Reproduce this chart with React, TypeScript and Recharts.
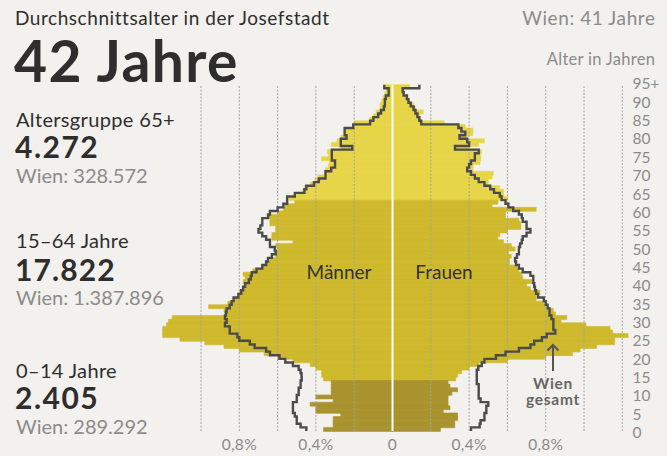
import React from 'react';
import { ComposedChart, Bar, Line, XAxis, YAxis, ReferenceLine, Cell } from 'recharts';

// Age categories (bottom to top)
const ageLabels: string[] = [
  '0','1','2','3','4','5','6','7','8','9',
  '10','11','12','13','14','15','16','17','18','19',
  '20','21','22','23','24','25','26','27','28','29',
  '30','31','32','33','34','35','36','37','38','39',
  '40','41','42','43','44','45','46','47','48','49',
  '50','51','52','53','54','55','56','57','58','59',
  '60','61','62','63','64','65','66','67','68','69',
  '70','71','72','73','74','75','76','77','78','79',
  '80','81','82','83','84','85','86','87','88','89',
  '90','91','92','93','94','95+',
];

// Josefstadt, share of population in % (Männer), per age 0..95+
const josefstadtMen: number[] = [
  0.36, 0.31, 0.31, 0.31, 0.27, 0.40, 0.40, 0.43, 0.31, 0.40,
  0.32, 0.32, 0.32, 0.32, 0.36, 0.37, 0.37, 0.40, 0.43, 0.52,
  0.60, 0.67, 0.80, 0.88, 0.98, 1.11, 1.20, 1.20, 1.20, 1.18,
  1.17, 1.15, 0.87, 0.88, 0.96, 0.86, 0.83, 0.80, 0.80, 0.78,
  0.77, 0.78, 0.77, 0.78, 0.73, 0.68, 0.66, 0.64, 0.61, 0.61,
  0.60, 0.61, 0.52, 0.63, 0.63, 0.61, 0.61, 0.64, 0.64, 0.65,
  0.60, 0.57, 0.56, 0.51, 0.54, 0.50, 0.47, 0.46, 0.43, 0.405,
  0.39, 0.35, 0.35, 0.335, 0.33, 0.37, 0.335, 0.34, 0.27, 0.32,
  0.29, 0.27, 0.25, 0.25, 0.20, 0.20, 0.12, 0.10, 0.085, 0.065,
  0.065, 0.056, 0.05, 0.04, 0.034, 0.04,
];

// Josefstadt, share of population in % (Frauen)
const josefstadtWomen: number[] = [
  0.25, 0.325, 0.325, 0.34, 0.34, 0.265, 0.30, 0.29, 0.29, 0.29,
  0.31, 0.34, 0.30, 0.29, 0.33, 0.34, 0.36, 0.40, 0.45, 0.60,
  0.80, 0.94, 0.98, 1.066, 1.16, 1.16, 1.23, 1.15, 1.136, 1.01,
  0.88, 0.91, 0.85, 0.84, 0.80, 0.79, 0.75, 0.75, 0.77, 0.72,
  0.70, 0.727, 0.68, 0.675, 0.66, 0.65, 0.61, 0.61, 0.62, 0.605,
  0.64, 0.62, 0.58, 0.55, 0.56, 0.60, 0.67, 0.67, 0.66, 0.59,
  0.59, 0.75, 0.52, 0.55, 0.60, 0.58, 0.58, 0.56, 0.50, 0.50,
  0.52, 0.526, 0.42, 0.42, 0.457, 0.46, 0.46, 0.465, 0.40, 0.45,
  0.48, 0.39, 0.42, 0.42, 0.38, 0.27, 0.145, 0.14, 0.16, 0.12,
  0.11, 0.09, 0.08, 0.065, 0.056, 0.09,
];

// Wien gesamt, share in % (Männer)
const wienMen: number[] = [
  0.45, 0.48, 0.50, 0.50, 0.51, 0.52, 0.52, 0.52, 0.50, 0.50,
  0.49, 0.49, 0.48, 0.48, 0.474, 0.475, 0.48, 0.49, 0.52, 0.56,
  0.59, 0.64, 0.66, 0.72, 0.745, 0.80, 0.81, 0.85, 0.85, 0.875,
  0.866, 0.875, 0.87, 0.866, 0.85, 0.84, 0.83, 0.805, 0.79, 0.78,
  0.77, 0.75, 0.74, 0.735, 0.71, 0.68, 0.66, 0.65, 0.63, 0.61,
  0.615, 0.64, 0.64, 0.66, 0.68, 0.70, 0.69, 0.68, 0.68, 0.65,
  0.64, 0.60, 0.57, 0.55, 0.55, 0.51, 0.46, 0.45, 0.41, 0.385,
  0.35, 0.35, 0.32, 0.30, 0.30, 0.317, 0.317, 0.317, 0.21, 0.27,
  0.27, 0.24, 0.25, 0.25, 0.205, 0.117, 0.10, 0.075, 0.06, 0.045,
  0.04, 0.04, 0.035, 0.02, 0.02, 0.043,
];

// Wien gesamt, share in % (Frauen)
const wienWomen: number[] = [
  0.41, 0.455, 0.46, 0.48, 0.48, 0.49, 0.49, 0.50, 0.46, 0.45,
  0.45, 0.45, 0.45, 0.44, 0.44, 0.44, 0.44, 0.448, 0.466, 0.48,
  0.54, 0.59, 0.66, 0.72, 0.74, 0.78, 0.805, 0.85, 0.84, 0.84,
  0.84, 0.83, 0.82, 0.82, 0.81, 0.80, 0.79, 0.76, 0.75, 0.744,
  0.74, 0.735, 0.735, 0.72, 0.68, 0.66, 0.645, 0.64, 0.65, 0.66,
  0.66, 0.666, 0.675, 0.68, 0.70, 0.72, 0.70, 0.70, 0.68, 0.675,
  0.66, 0.63, 0.605, 0.59, 0.57, 0.56, 0.53, 0.51, 0.48, 0.45,
  0.43, 0.41, 0.39, 0.40, 0.41, 0.43, 0.43, 0.45, 0.326, 0.40,
  0.39, 0.35, 0.38, 0.36, 0.344, 0.15, 0.14, 0.13, 0.12, 0.11,
  0.095, 0.083, 0.075, 0.058, 0.053, 0.14,
];

// first age index of each colour band (as drawn in the original)
const groupStarts: number[] = [0, 14, 64];
const groupColors: string[] = ['#a9932f', '#cfb92c', '#e7d548'];

const xLabelTicks: number[] = [-0.8, -0.4, 0, 0.4, 0.8];
const gridValues: number[] = [-1.0, -0.8, -0.6, -0.4, -0.2, 0.2, 0.4, 0.6, 0.8, 1.0, 1.2];

const groupOf = (i: number) => (i >= groupStarts[2] ? 2 : i >= groupStarts[1] ? 1 : 0);

const rows = ageLabels
  .map((age, i) => ({
    age,
    idx: i,
    m: -josefstadtMen[i],
    f: josefstadtWomen[i],
    wm: -wienMen[i],
    wf: wienWomen[i],
    group: groupOf(i),
  }))
  .reverse();

// vertical step curve: each value holds for the full height of its age band
const stepY = (context: any) => {
  let pts: [number, number][] = [];
  return {
    areaStart() {},
    areaEnd() {},
    lineStart() {
      pts = [];
    },
    point(x: number, y: number) {
      pts.push([+x, +y]);
    },
    lineEnd() {
      const n = pts.length;
      if (!n) return;
      const half = n > 1 ? (pts[1][1] - pts[0][1]) / 2 : 0;
      context.moveTo(pts[0][0], pts[0][1] - half);
      for (let i = 1; i < n; i++) {
        const my = (pts[i - 1][1] + pts[i][1]) / 2;
        context.lineTo(pts[i - 1][0], my);
        context.lineTo(pts[i][0], my);
      }
      context.lineTo(pts[n - 1][0], pts[n - 1][1] + half);
    },
  };
};

const FONT = 'Lato, "Noto Sans", sans-serif';
const GREY = '#8b8b8b';
const DARK = '#2e2e2e';

const XTick = (props: any) => {
  const { x, y, payload } = props;
  const v = payload.value as number;
  const label = v === 0 ? '0' : `${Math.abs(v).toFixed(1).replace('.', ',')}%`;
  return (
    <text x={x} y={y + 19} textAnchor="middle" fill={GREY} fontSize={15.5} fontFamily={FONT} letterSpacing={0.3}>
      {label}
    </text>
  );
};

const YTick = (props: any) => {
  const { x, y, payload } = props;
  const label = String(payload.value);
  const a = parseInt(label, 10);
  if (a % 5 !== 0) return null;
  const dy = 3.5 - a * 0.064;
  return (
    <text x={x + 0.5} y={y + dy + 5.5} textAnchor="start" fill={GREY} fontSize={15.5} fontFamily={FONT}>
      {label}
    </text>
  );
};

const T = (p: {
  text: string;
  left?: number;
  right?: number;
  baseline: number;
  size: number;
  color: string;
  bold?: boolean;
  center?: number;
  ls?: number;
}) => {
  const top = p.baseline - 0.887 * p.size;
  const style: React.CSSProperties = {
    position: 'absolute',
    top,
    fontFamily: FONT,
    fontSize: p.size,
    lineHeight: `${p.size}px`,
    color: p.color,
    fontWeight: p.bold ? 700 : 400,
    whiteSpace: 'nowrap',
    letterSpacing: p.ls ?? 0,
  };
  if (p.left !== undefined) style.left = p.left;
  if (p.right !== undefined) style.right = 667 - p.right - (p.ls ?? 0);
  if (p.center !== undefined) {
    style.left = p.center;
    style.transform = 'translateX(-50%)';
  }
  return <div style={style}>{p.text}</div>;
};

export default function App() {
  return (
    <div
      style={{
        position: 'absolute',
        left: 0,
        top: 0,
        width: 667,
        height: 456,
        background: '#f2f1ed',
        overflow: 'hidden',
      }}
    >
      <ComposedChart
        layout="vertical"
        width={667}
        height={456}
        data={rows}
        margin={{ top: 84.7, right: 5.1, bottom: 5, left: 143.55 }}
        barCategoryGap={0}
        barGap={0}
        stackOffset="sign"
      >
        <XAxis
          type="number"
          domain={[-1.3, 1.25]}
          allowDataOverflow
          ticks={xLabelTicks}
          tick={<XTick />}
          axisLine={false}
          tickLine={false}
          tickSize={0}
          tickMargin={0}
          height={20}
        />
        <YAxis
          type="category"
          dataKey="age"
          orientation="right"
          width={30}
          interval={0}
          tick={<YTick />}
          axisLine={false}
          tickLine={false}
          tickSize={0}
          tickMargin={0}
        />
        <Bar dataKey="m" stackId="p" isAnimationActive={false}>
          {rows.map((r) => (
            <Cell key={`m${r.idx}`} fill={groupColors[r.group]} stroke={groupColors[r.group]} strokeWidth={0.6} />
          ))}
        </Bar>
        <Bar dataKey="f" stackId="p" isAnimationActive={false}>
          {rows.map((r) => (
            <Cell key={`f${r.idx}`} fill={groupColors[r.group]} stroke={groupColors[r.group]} strokeWidth={0.6} />
          ))}
        </Bar>
        {gridValues.map((v) => (
          <ReferenceLine key={v} x={v} stroke="#a3a3a3" strokeWidth={1} strokeDasharray="2 1.5" />
        ))}
        <ReferenceLine x={0} stroke="#ffffff" strokeWidth={2} />
        <Line
          dataKey="wm"
          type={stepY as any}
          stroke="#4b4b4b"
          strokeWidth={2.4}
          dot={false}
          activeDot={false}
          isAnimationActive={false}
        />
        <Line
          dataKey="wf"
          type={stepY as any}
          stroke="#4b4b4b"
          strokeWidth={2.4}
          dot={false}
          activeDot={false}
          isAnimationActive={false}
        />
      </ComposedChart>

      <T text="Durchschnittsalter in der Josefstadt" left={15} baseline={25} size={19} color={DARK} ls={0.55} />
      <T text="Wien: 41 Jahre" right={655} baseline={25} size={19} color={GREY} ls={0.6} />
      <T text="42 Jahre" left={14} baseline={83} size={57} color={DARK} bold ls={1.4} />
      <T text="Alter in Jahren" right={655} baseline={66} size={16.5} color={GREY} ls={0.3} />

      <T text="Altersgruppe 65+" left={16} baseline={126.5} size={20} color={DARK} ls={0.35} />
      <T text="4.272" left={15} baseline={157.5} size={30} color={DARK} bold ls={1.5} />
      <T text="Wien: 328.572" left={16} baseline={182.7} size={20} color={GREY} />

      <T text="15–64 Jahre" left={16} baseline={247.7} size={20} color={DARK} ls={0.35} />
      <T text="17.822" left={15} baseline={281} size={30} color={DARK} bold ls={1.1} />
      <T text="Wien: 1.387.896" left={16} baseline={304.5} size={20} color={GREY} />

      <T text="0–14 Jahre" left={16} baseline={377.3} size={20} color={DARK} ls={0.35} />
      <T text="2.405" left={15} baseline={408.5} size={30} color={DARK} bold ls={1.5} />
      <T text="Wien: 289.292" left={16} baseline={433.3} size={20} color={GREY} />

      <T text="Männer" center={339} baseline={279} size={19} color="#333" />
      <T text="Frauen" center={444} baseline={279} size={19} color="#333" />

      <T text="Wien" center={553} baseline={389.5} size={15.5} color="#666" bold ls={0.7} />
      <T text="gesamt" center={553} baseline={406} size={15.5} color="#666" bold ls={0.7} />
      <svg
        width={667}
        height={456}
        style={{ position: 'absolute', left: 0, top: 0, pointerEvents: 'none' }}
      >
        <path d="M553,371 L553,345 M547.5,350.5 L553,345 L558.5,350.5" stroke="#555" strokeWidth={2} fill="none" />
      </svg>
    </div>
  );
}
